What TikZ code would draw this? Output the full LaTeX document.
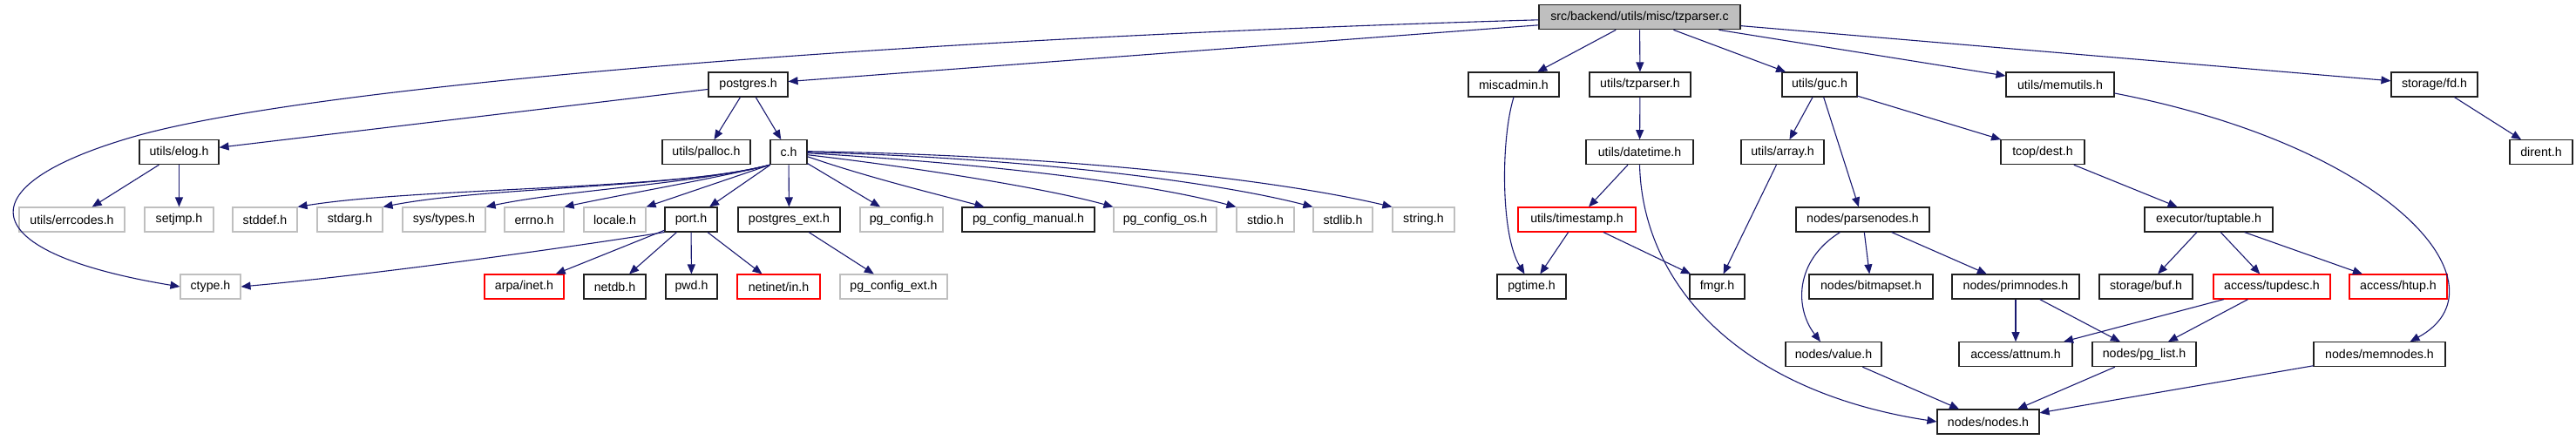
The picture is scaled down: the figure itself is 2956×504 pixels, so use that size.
\documentclass[tikz,border=0pt]{standalone}
\usepackage{fontspec}
\setmainfont{Liberation Sans}
\usetikzlibrary{arrows.meta,calc}
\definecolor{edgeblue}{HTML}{191970}
\definecolor{lgray}{HTML}{BFBFBF}
\definecolor{rootgray}{HTML}{BFBFBF}
\definecolor{boxblack}{HTML}{202020}
\newcommand\nodefont{\fontsize{7.1}{8}\selectfont}
\begin{document}
\begin{tikzpicture}[x=0.5pt,y=-0.5pt,
  box/.style={draw=boxblack,line width=0.55pt,minimum height=14pt,inner sep=0pt,font=\nodefont,text=black,fill=white},
  gbox/.style={box,draw=lgray},
  rbox/.style={box,draw=red},
  bw/.style={minimum width={#1*0.5pt}},
  edge/.style={draw=edgeblue,line width=0.55pt,-{Triangle[length=5.5pt,width=4.5pt]}}]
\useasboundingbox (0,0) rectangle (2956,504);
% row 0
\node[box,fill=rootgray,bw=231] (root) at (1881.5,19.8) {src/backend/utils/misc/tzparser.c};
% row 1
\node[box,bw=91] (postgres) at (858.5,97) {postgres.h};
\node[box,bw=104] (miscadmin) at (1737,97) {miscadmin.h};
\node[box,bw=116] (tzparserh) at (1882,97) {utils/tzparser.h};
\node[box,bw=86] (guc) at (2088,97) {utils/guc.h};
\node[box,bw=124] (memutils) at (2364,97) {utils/memutils.h};
\node[box,bw=99] (fd) at (2793.5,97) {storage/fd.h};
% row 2
\node[box,bw=91] (elog) at (205.5,174.7) {utils/elog.h};
\node[box,bw=101] (palloc) at (810.5,174.7) {utils/palloc.h};
\node[box,bw=42] (ch) at (905,174.7) {c.h};
\node[box,bw=123] (datetime) at (1881.5,174.7) {utils/datetime.h};
\node[box,bw=95] (array) at (2045.5,174.7) {utils/array.h};
\node[box,bw=96] (dest) at (2344,174.7) {tcop/dest.h};
\node[box,bw=72] (dirent) at (2916,174.7) {dirent.h};
% row 3
\node[gbox,bw=121] (errcodes) at (82.5,252) {utils/errcodes.h};
\node[gbox,bw=79] (setjmp) at (205.5,252) {setjmp.h};
\node[gbox,bw=74] (stddef) at (304,252) {stddef.h};
\node[gbox,bw=75] (stdarg) at (401.5,252) {stdarg.h};
\node[gbox,bw=95] (systypes) at (509.5,252) {sys/types.h};
\node[gbox,bw=68] (errno) at (613,252) {errno.h};
\node[gbox,bw=71] (locale) at (705.5,252) {locale.h};
\node[box,bw=60] (port) at (793,252) {port.h};
\node[box,bw=117] (pgext) at (905.5,252) {postgres\_ext.h};
\node[gbox,bw=95] (pgconfig) at (1034.5,252) {pg\_config.h};
\node[box,bw=152] (pgmanual) at (1180,252) {pg\_config\_manual.h};
\node[gbox,bw=118] (pgos) at (1337,252) {pg\_config\_os.h};
\node[gbox,bw=66] (stdio) at (1452,252) {stdio.h};
\node[gbox,bw=68] (stdlib) at (1541,252) {stdlib.h};
\node[gbox,bw=71] (string) at (1633.5,252) {string.h};
\node[rbox,bw=135] (timestamp) at (1809.5,252) {utils/timestamp.h};
\node[box,bw=153] (parsenodes) at (2137.5,252) {nodes/parsenodes.h};
\node[box,bw=147] (tuptable) at (2534.5,252) {executor/tuptable.h};
% row 4
\node[gbox,bw=69] (ctype) at (241.5,329) {ctype.h};
\node[rbox,bw=91] (arpa) at (601.5,329) {arpa/inet.h};
\node[box,bw=71] (netdb) at (705.5,329) {netdb.h};
\node[box,bw=59] (pwd) at (793.5,329) {pwd.h};
\node[rbox,bw=95] (netinet) at (893.5,329) {netinet/in.h};
\node[gbox,bw=123] (pgcfgext) at (1025.5,329) {pg\_config\_ext.h};
\node[box,bw=79] (pgtime) at (1757.5,329) {pgtime.h};
\node[box,bw=63] (fmgr) at (1970.5,329) {fmgr.h};
\node[box,bw=142] (bitmapset) at (2147,329) {nodes/bitmapset.h};
\node[box,bw=146] (primnodes) at (2313,329) {nodes/primnodes.h};
\node[box,bw=107] (buf) at (2462.5,329) {storage/buf.h};
\node[rbox,bw=134] (tupdesc) at (2607,329) {access/tupdesc.h};
\node[rbox,bw=112] (htup) at (2752,329) {access/htup.h};
% row 5
\node[box,bw=110] (value) at (2104,406.7) {nodes/value.h};
\node[box,bw=130] (attnum) at (2313,406.7) {access/attnum.h};
\node[box,bw=119] (pglist) at (2460.5,406.7) {nodes/pg\_list.h};
\node[box,bw=151] (memnodes) at (2730.5,406.7) {nodes/memnodes.h};
% row 6
\node[box,bw=117] (nodes) at (2281.5,484) {nodes/nodes.h};

% edges from root
\draw[edge] ($(root.west)+(0,3)$) .. controls (1000,45) and (350,100) .. (153,157)
   .. controls (-44,214) and (-30,290) .. (ctype.west);
\draw[edge] ($(root.west)+(0,9)$) -- (postgres);
\draw[edge] (root) -- (miscadmin);
\draw[edge] (root) -- (tzparserh);
\draw[edge] (root) -- (guc);
\draw[edge] (root) -- (memutils);
\draw[edge] (root) -- (fd);
% postgres.h
\draw[edge] (postgres) -- (elog);
\draw[edge] (postgres) -- (palloc);
\draw[edge] (postgres) -- (ch);
% elog
\draw[edge] (elog) -- (errcodes);
\draw[edge] (elog) -- (setjmp);
% c.h left fan
\draw[edge] (ch.south west) .. controls (780,218) and (480,215) .. (stddef.north east);
\draw[edge] (ch.south west) .. controls (780,216) and (560,214) .. (stdarg.north east);
\draw[edge] (ch.south west) .. controls (790,212) and (650,218) .. (systypes.north east);
\draw[edge] (ch.south west) .. controls (820,205) and (720,222) .. (errno.north east);
\draw[edge] (ch.south west) -- (locale.north east);
\draw[edge] (ch) -- (port);
\draw[edge] (ch) -- (pgext);
\draw[edge] (ch) -- (pgconfig);
% c.h right fan
\draw[edge] ($(ch.east)+(0,5)$) .. controls (1000,205) and (1080,224) .. ($(pgmanual.north west)+(26,0)$);
\draw[edge] ($(ch.east)+(0,3)$) .. controls (1050,192) and (1200,216) .. (pgos.north west);
\draw[edge] ($(ch.east)+(0,1)$) .. controls (1100,186) and (1300,206) .. (stdio.north west);
\draw[edge] (ch.east) .. controls (1150,180) and (1380,205) .. (stdlib.north west);
\draw[edge] ($(ch.east)+(0,-1)$) .. controls (1200,178) and (1450,203) .. (string.north west);
% port.h
\draw[edge] (port.south west) .. controls (600,292) and (400,318) .. (ctype.east);
\draw[edge] (port) -- (arpa);
\draw[edge] (port) -- (netdb);
\draw[edge] (port) -- (pwd);
\draw[edge] (port) -- (netinet);
\draw[edge] (pgext) -- (pgcfgext);
% right part
\draw[edge] (miscadmin.south) .. controls (1722,160) and (1722,270) .. ($(pgtime.north)+(-8,0)$);
\draw[edge] (tzparserh) -- (datetime);
\draw[edge] (datetime) -- (timestamp);
\draw[edge] (datetime.south) .. controls (1885,330) and (2000,450) .. (nodes.west);
\draw[edge] (timestamp) -- (pgtime);
\draw[edge] (timestamp) -- (fmgr);
\draw[edge] (guc) -- (array);
\draw[edge] (guc) -- (parsenodes);
\draw[edge] (guc) -- (dest);
\draw[edge] (array) -- (fmgr);
\draw[edge] (dest) -- (tuptable);
\draw[edge] ($(parsenodes.south)+(-26,0)$) .. controls (2058,300) and (2060,355) .. ($(value.north)+(-15,0)$);
\draw[edge] (parsenodes) -- (bitmapset);
\draw[edge] (parsenodes) -- (primnodes);
\draw[edge] (primnodes) -- (attnum);
\draw[edge] (primnodes) -- (pglist);
\draw[edge] (tuptable) -- (buf);
\draw[edge] (tuptable) -- (tupdesc);
\draw[edge] (tuptable) -- (htup);
\draw[edge] (tupdesc) -- (attnum);
\draw[edge] (tupdesc) -- (pglist);
\draw[edge] (value) -- (nodes);
\draw[edge] (pglist) -- (nodes);
\draw[edge] (memnodes) -- (nodes);
\draw[edge] ($(memutils.east)+(0,10)$) .. controls (2750,170) and (2880,330) .. ($(memnodes.north)+(35,0)$);
\draw[edge] (fd) -- (dirent);
\end{tikzpicture}
\end{document}
